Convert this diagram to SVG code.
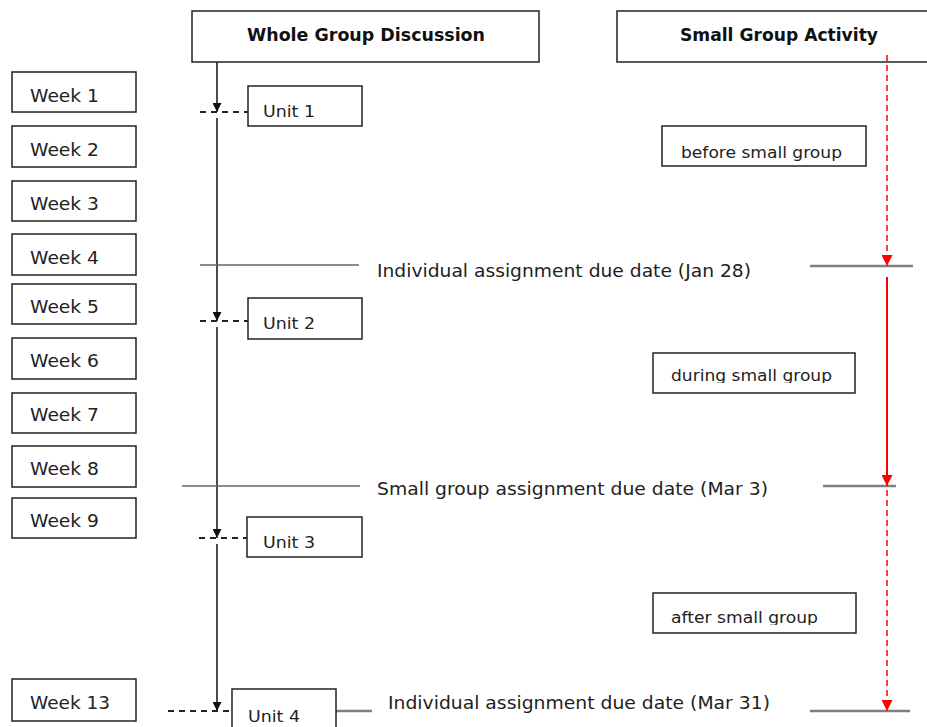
<svg xmlns="http://www.w3.org/2000/svg" width="927" height="727" viewBox="0 0 927 727">
<style>
.box{fill:#fff;stroke:#222;stroke-width:1.5}
.t{font-family:"DejaVu Sans",sans-serif;font-size:17px;fill:#222}
.u{font-family:"DejaVu Sans",sans-serif;font-size:16px;fill:#222}
.s{font-family:"DejaVu Sans",sans-serif;font-size:16px;fill:#222}
.h{font-family:"DejaVu Sans",sans-serif;font-size:17px;font-weight:bold;fill:#111}
.v{stroke:#111;stroke-width:1.5;fill:none}
.dash{stroke:#222;stroke-width:2;stroke-dasharray:6 5;fill:none}
.g{stroke:#666;stroke-width:1.5;fill:none}
.gr{stroke:#808080;stroke-width:2.5;fill:none}
.rd{stroke:#ff0000;stroke-width:1.5;stroke-dasharray:6 4;fill:none}
.rs{stroke:#ff0000;stroke-width:2;fill:none}
</style>
<defs>
<marker id="ab" viewBox="0 0 10 10" refX="10" refY="5" markerWidth="10" markerHeight="9" markerUnits="userSpaceOnUse" orient="auto"><path d="M0,0 L10,5 L0,10 z" fill="#111"/></marker>
<marker id="ar" viewBox="0 0 10 10" refX="10" refY="5" markerWidth="11" markerHeight="11" markerUnits="userSpaceOnUse" orient="auto"><path d="M0,0 L10,5 L0,10 z" fill="#ff0000"/></marker>
<clipPath id="c1"><rect x="662" y="126" width="204" height="35"/></clipPath>
<clipPath id="c2"><rect x="653" y="353" width="202" height="30"/></clipPath>
<clipPath id="c3"><rect x="653" y="593" width="203" height="32"/></clipPath>
</defs>

<g id="header-whole">
<rect class="box" x="192" y="11" width="347" height="51"/>
<text class="h" x="247" y="41" textLength="238" lengthAdjust="spacingAndGlyphs">Whole Group Discussion</text>
</g>
<g id="header-small">
<rect class="box" x="617" y="11" width="330" height="51"/>
<text class="h" x="680" y="41" textLength="198" lengthAdjust="spacingAndGlyphs">Small Group Activity</text>
</g>

<g id="week1"><rect class="box" x="12" y="72" width="124" height="40"/><text class="t" x="30" y="102" textLength="69" lengthAdjust="spacingAndGlyphs">Week 1</text></g>
<g id="week2"><rect class="box" x="12" y="126" width="124" height="41"/><text class="t" x="30" y="156" textLength="69" lengthAdjust="spacingAndGlyphs">Week 2</text></g>
<g id="week3"><rect class="box" x="12" y="181" width="124" height="40"/><text class="t" x="30" y="210" textLength="69" lengthAdjust="spacingAndGlyphs">Week 3</text></g>
<g id="week4"><rect class="box" x="12" y="234" width="124" height="41"/><text class="t" x="30" y="264" textLength="69" lengthAdjust="spacingAndGlyphs">Week 4</text></g>
<g id="week5"><rect class="box" x="12" y="284" width="124" height="40"/><text class="t" x="30" y="313" textLength="69" lengthAdjust="spacingAndGlyphs">Week 5</text></g>
<g id="week6"><rect class="box" x="12" y="338" width="124" height="41"/><text class="t" x="30" y="367" textLength="69" lengthAdjust="spacingAndGlyphs">Week 6</text></g>
<g id="week7"><rect class="box" x="12" y="393" width="124" height="40"/><text class="t" x="30" y="421" textLength="69" lengthAdjust="spacingAndGlyphs">Week 7</text></g>
<g id="week8"><rect class="box" x="12" y="446" width="124" height="41"/><text class="t" x="30" y="475" textLength="69" lengthAdjust="spacingAndGlyphs">Week 8</text></g>
<g id="week9"><rect class="box" x="12" y="498" width="124" height="40"/><text class="t" x="30" y="527" textLength="69" lengthAdjust="spacingAndGlyphs">Week 9</text></g>
<g id="week13"><rect class="box" x="12" y="679" width="124" height="42"/><text class="t" x="30" y="709" textLength="80" lengthAdjust="spacingAndGlyphs">Week 13</text></g>

<g id="connectors">
<!-- black timeline -->
<line class="v" x1="217" y1="62" x2="217" y2="112" marker-end="url(#ab)"/>
<line class="v" x1="217" y1="118" x2="217" y2="321" marker-end="url(#ab)"/>
<line class="v" x1="217" y1="327" x2="217" y2="538" marker-end="url(#ab)"/>
<line class="v" x1="217" y1="544" x2="217" y2="711" marker-end="url(#ab)"/>
<!-- dashed unit ties -->
<line class="dash" x1="200" y1="112" x2="248" y2="112"/>
<line class="dash" x1="200" y1="321" x2="248" y2="321"/>
<line class="dash" x1="199" y1="538" x2="247" y2="538"/>
<line class="dash" x1="168" y1="711" x2="232" y2="711"/>
<!-- due date lines -->
<line class="g" x1="200" y1="265" x2="359" y2="265"/>
<line class="gr" x1="810" y1="266" x2="913" y2="266"/>
<line class="g" x1="182" y1="486" x2="360" y2="486"/>
<line class="gr" x1="823" y1="486" x2="896" y2="486"/>
<line class="gr" x1="336" y1="711" x2="372" y2="711"/>
<line class="gr" x1="810" y1="711" x2="910" y2="711"/>
<!-- red timeline -->
<line class="rd" x1="887" y1="55" x2="887" y2="266" marker-end="url(#ar)"/>
<line class="rs" x1="887" y1="277" x2="887" y2="486" marker-end="url(#ar)"/>
<line class="rd" x1="887" y1="490" x2="887" y2="711" marker-end="url(#ar)"/>
</g>

<g id="unit1"><rect class="box" x="248" y="86" width="114" height="40"/><text class="u" x="263" y="117" textLength="52" lengthAdjust="spacingAndGlyphs">Unit 1</text></g>
<g id="unit2"><rect class="box" x="248" y="298" width="114" height="41"/><text class="u" x="263" y="329" textLength="52" lengthAdjust="spacingAndGlyphs">Unit 2</text></g>
<g id="unit3"><rect class="box" x="247" y="517" width="115" height="40"/><text class="u" x="263" y="548" textLength="52" lengthAdjust="spacingAndGlyphs">Unit 3</text></g>
<g id="unit4"><rect class="box" x="232" y="689" width="104" height="45"/><text class="u" x="248" y="722" textLength="52" lengthAdjust="spacingAndGlyphs">Unit 4</text></g>

<g id="due-jan28"><text class="t" x="377" y="277" textLength="374" lengthAdjust="spacingAndGlyphs">Individual assignment due date (Jan 28)</text></g>
<g id="due-mar3"><text class="t" x="377" y="495" textLength="391" lengthAdjust="spacingAndGlyphs">Small group assignment due date (Mar 3)</text></g>
<g id="due-mar31"><text class="t" x="388" y="709" textLength="382" lengthAdjust="spacingAndGlyphs">Individual assignment due date (Mar 31)</text></g>

<g id="before"><rect class="box" x="662" y="126" width="204" height="40"/><text class="s" x="681" y="158" textLength="161" lengthAdjust="spacingAndGlyphs" clip-path="url(#c1)">before small group</text></g>
<g id="during"><rect class="box" x="653" y="353" width="202" height="40"/><text class="s" x="671" y="381" textLength="161" lengthAdjust="spacingAndGlyphs" clip-path="url(#c2)">during small group</text></g>
<g id="after"><rect class="box" x="653" y="593" width="203" height="40"/><text class="s" x="671" y="623" textLength="147" lengthAdjust="spacingAndGlyphs" clip-path="url(#c3)">after small group</text></g>
</svg>
